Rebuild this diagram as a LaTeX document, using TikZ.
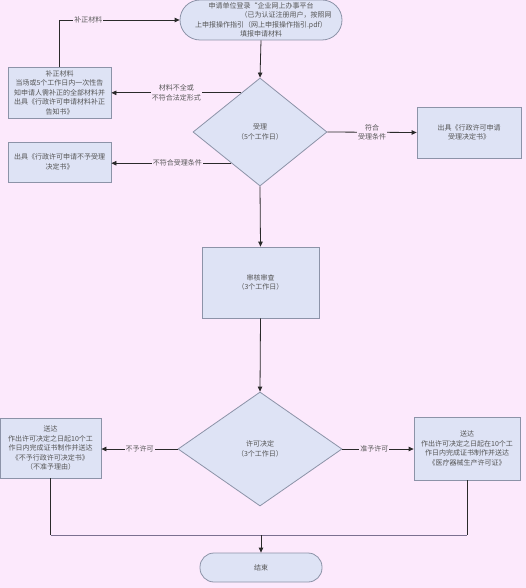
\documentclass[tikz,border=0pt]{standalone}
\usepackage{fontspec}
\setmainfont{Noto Sans CJK SC}
\usetikzlibrary{shapes.geometric,arrows.meta,calc}
\definecolor{bgc}{HTML}{FCE9FC}
\definecolor{boxfill}{HTML}{DEE3F5}
\definecolor{boxline}{HTML}{8C93A8}
\definecolor{txt}{HTML}{555555}
\definecolor{conn}{HTML}{2A2A2A}
\definecolor{hline}{HTML}{7B7090}
\tikzset{
  basebox/.style={draw=boxline, fill=boxfill, line width=0.8pt, text=txt,
    font=\fontsize{7}{9.5}\selectfont, align=center, inner sep=1pt},
  procbox/.style={basebox, rectangle},
  termbox/.style={basebox, rectangle},
  decbox/.style={basebox, diamond, inner sep=0pt},
  conline/.style={draw=conn, line width=0.8pt},
  arr/.style={conline, -{Triangle[length=5pt,width=4.5pt]}},
  lbl/.style={fill=bgc, text=txt, font=\fontsize{7}{9.5}\selectfont, align=center, inner sep=1pt}
}
\begin{document}
\begin{tikzpicture}[x=1pt,y=-1pt]
\fill[bgc] (0,0) rectangle (526,588);
\useasboundingbox (0,0) rectangle (526,588);

% nodes
\node[termbox, rounded corners=20pt, minimum width=162pt, minimum height=40pt] (start) at (261,20)
  {申请单位登录“企业网上办事平台\\\hspace*{50pt}（已为认证注册用户，按照网\\上申报操作指引（网上申报操作指引.pdf）\\填报申请材料};
\node[decbox, minimum width=134pt, minimum height=108pt] (d1) at (260,132) {受理\\（5个工作日）};
\node[procbox, minimum width=103pt, minimum height=51pt] (bz) at (59.5,92.5)
  {补正材料\\当场或5个工作日内一次性告\\知申请人需补正的全部材料并\\出具《行政许可申请材料补正\\告知书》};
\node[procbox, minimum width=104pt, minimum height=51pt] (sl) at (469,132.5)
  {出具《行政许可申请\\受理决定书》};
\node[procbox, minimum width=103pt, minimum height=40pt] (bsl) at (59.5,162)
  {出具《行政许可申请不予受理\\决定书》};
\node[procbox, minimum width=117pt, minimum height=71pt] (sh) at (260.5,282.5)
  {审核审查\\（3个工作日）};
\node[decbox, minimum width=164pt, minimum height=114pt] (d2) at (260,449) {许可决定\\（3个工作日）};
\node[procbox, minimum width=101pt, minimum height=60pt] (byx) at (50.5,448)
  {送达\\作出许可决定之日起10个工\\作日内完成证书制作并送达\\《不予行政许可决定书》\\（不准予理由）};
\node[procbox, minimum width=106pt, minimum height=63pt] (zyx) at (467,448.5)
  {送达\\作出许可决定之日起在10个工\\作日内完成证书制作并送达\\《医疗器械生产许可证》};
\node[termbox, rounded corners=14pt, minimum width=122pt, minimum height=29pt] (end) at (261,567.5) {结束};

% connectors
\draw[arr] (start.south) -- (d1.north);
\draw[arr] (bz.north) |- node[lbl, pos=0.62] {补正材料} (start.west);
\coordinate (p1) at ($(d1.north)!0.28!(d1.west)$);
\draw[arr] (p1) -- node[lbl, pos=0.5] {材料不全或\\不符合法定形式} (p1 -| bz.east);
\draw[arr] (d1.east) -- node[lbl, pos=0.5] {符合\\受理条件} (sl.west);
\coordinate (p2) at ($(d1.west)!0.574!(d1.south)$);
\draw[arr] (p2) -- node[lbl, pos=0.45] {不符合受理条件} (p2 -| bsl.east);
\draw[arr] (d1.south) -- (sh.north);
\draw[arr] (sh.south) -- (d2.north);
\draw[arr] (d2.west) -- node[lbl, pos=0.5] {不予许可} (d2.west -| byx.east);
\draw[arr] (d2.east) -- node[lbl, pos=0.45] {准予许可} (d2.east -| zyx.west);
\coordinate (jl) at (byx.south |- 0,535);
\coordinate (jr) at (zyx.south |- 0,535);
\coordinate (jm) at (end.north |- 0,535);
\draw[conline] (byx.south) -- (jl);
\draw[conline] (zyx.south) -- (jr);
\draw[draw=hline, line width=1pt] (jl) -- (jr);
\draw[arr] (jm) -- (end.north);
\end{tikzpicture}
\end{document}
